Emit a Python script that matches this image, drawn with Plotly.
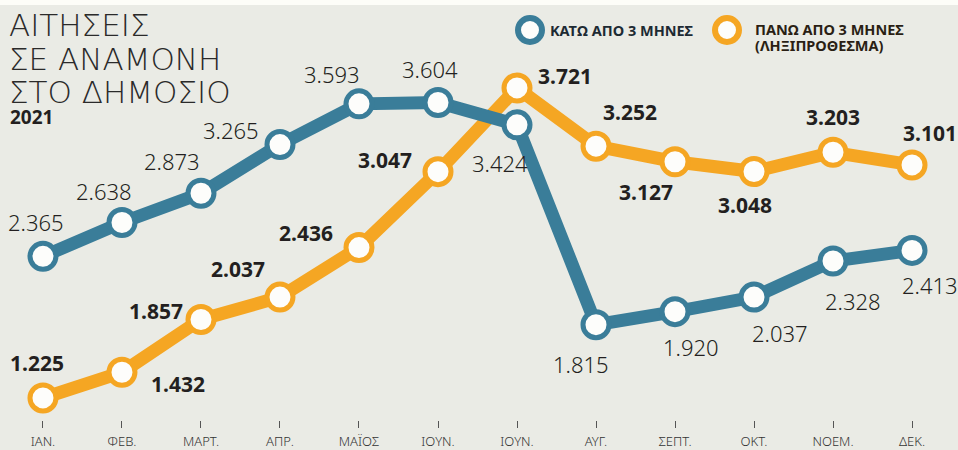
import plotly.graph_objects as go

# ---- data ----
months = ["ΙΑΝ.", "ΦΕΒ.", "ΜΑΡΤ.", "ΑΠΡ.", "ΜΑΪΟΣ", "ΙΟΥΝ.", "ΙΟΥΝ.", "ΑΥΓ.", "ΣΕΠΤ.", "ΟΚΤ.", "ΝΟΕΜ.", "ΔΕΚ."]
under_3 = [2365, 2638, 2873, 3265, 3593, 3604, 3424, 1815, 1920, 2037, 2328, 2413]
over_3 = [1225, 1432, 1857, 2037, 2436, 3047, 3721, 3252, 3127, 3048, 3203, 3101]
name_under = "ΚΑΤΩ ΑΠΟ 3 ΜΗΝΕΣ"
name_over_1 = "ΠΑΝΩ ΑΠΟ 3 ΜΗΝΕΣ"
name_over_2 = "(ΛΗΞΙΠΡΟΘΕΣΜΑ)"
title_lines = ["ΑΙΤΗΣΕΙΣ", "ΣΕ ΑΝΑΜΟΝΗ", "ΣΤΟ ΔΗΜΟΣΙΟ"]
year = "2021"

# ---- style ----
W, H = 958, 450
MT, MB = 10, 30
PH = H - MT - MB
BLUE = "#3a7d99"
ORANGE = "#f5a623"
BG = "#eaebe5"
TXT = "#231f20"

# label offsets (pixels, dx right, dy down) relative to the point
off_under = [(-7, -34), (-18, -31), (-29, -32), (-49, -15), (-27, -30), (-8, -33),
             (-17, 38), (-15, 39), (16, 35), (26, 36), (20, 40), (18, 35)]
off_over = [(-6, -35), (56, 12), (-45, -8), (-42, -28), (-53, -15), (-53, -12),
            (48, -12), (34, -34), (-29, 30), (-9, 33), (0, -35), (18, -32)]

def py(pix):
    return 1 - (pix - MT) / PH

def px(pix):
    return pix / W

x = list(range(len(months)))

fig = go.Figure()
for vals, col in [(over_3, ORANGE), (under_3, BLUE)]:
    fig.add_trace(go.Scatter(
        x=x, y=vals, mode="lines+markers",
        line=dict(color=col, width=13),
        marker=dict(size=26, color="#fdfdfb", line=dict(color=col, width=5)),
        showlegend=False, hoverinfo="skip"))

ann = []
for i, v in enumerate(under_3):
    dx, dy = off_under[i]
    ann.append(dict(x=i, y=v, xref="x", yref="y", text=f"{v/1000:.3f}", showarrow=False,
                    xshift=dx, yshift=-dy, xanchor="center", yanchor="middle",
                    font=dict(family="Noto Sans", size=22, color=TXT, weight=300)))
for i, v in enumerate(over_3):
    dx, dy = off_over[i]
    ann.append(dict(x=i, y=v, xref="x", yref="y", text=f"<b>{v/1000:.3f}</b>", showarrow=False,
                    xshift=dx, yshift=-dy, xanchor="center", yanchor="middle",
                    font=dict(family="Noto Sans", size=21, color=TXT)))

# title
for t, yc in zip(title_lines, [25, 59, 92]):
    ann.append(dict(x=px(7), y=py(yc), xref="paper", yref="paper", text=t, showarrow=False,
                    xanchor="left", yanchor="middle",
                    font=dict(family="DejaVu Sans", size=31, color="#2a2a2a", weight=200)))
ann.append(dict(x=px(8), y=py(117), xref="paper", yref="paper", text=f"<b>{year}</b>",
                showarrow=False, xanchor="left", yanchor="middle",
                font=dict(family="Noto Sans", size=19, color=TXT)))

# legend
ann.append(dict(x=px(548), y=py(30), xref="paper", yref="paper", text=f"<b>{name_under}</b>",
                showarrow=False, xanchor="left", yanchor="middle",
                font=dict(family="Noto Sans", size=14.5, color="#1d2a33")))
ann.append(dict(x=px(753), y=py(29), xref="paper", yref="paper", text=f"<b>{name_over_1}</b>",
                showarrow=False, xanchor="left", yanchor="middle",
                font=dict(family="Noto Sans", size=14.5, color="#2a1f14")))
ann.append(dict(x=px(753), y=py(45), xref="paper", yref="paper", text=f"<b>{name_over_2}</b>",
                showarrow=False, xanchor="left", yanchor="middle",
                font=dict(family="Noto Sans", size=14.5, color="#2a1f14")))

shapes = [
    dict(type="rect", xref="paper", yref="paper", x0=0, x1=1, y0=py(5), y1=py(0),
         fillcolor="#fdfdf8", line=dict(width=0), layer="below"),
]
for cx, col in [(530, BLUE), (727, ORANGE)]:
    shapes.append(dict(type="circle", xref="paper", yref="paper",
                       xsizemode="pixel", ysizemode="pixel",
                       xanchor=px(cx), yanchor=py(30), x0=-12, x1=12, y0=-12, y1=12,
                       fillcolor="#fdfdfb", line=dict(color=col, width=6)))

fig.update_layout(
    width=W, height=H,
    margin=dict(l=0, r=0, t=MT, b=MB),
    paper_bgcolor=BG, plot_bgcolor=BG,
    xaxis=dict(range=[-0.544, 11.582], tickvals=x, ticktext=months,
               showgrid=False, zeroline=False, showline=False, automargin=False,
               ticks="outside", ticklen=7, tickwidth=1, tickcolor="#555",
               ticklabelstandoff=2,
               tickfont=dict(family="Noto Sans", size=13, color="#333", weight=300)),
    yaxis=dict(range=[1047.5, 4348.6], visible=False, automargin=False),
    annotations=ann, shapes=shapes,
)

fig.write_html("out.html", config={"displayModeBar": False},
               post_script="document.body.style.margin='0';document.body.style.overflow='hidden';")
